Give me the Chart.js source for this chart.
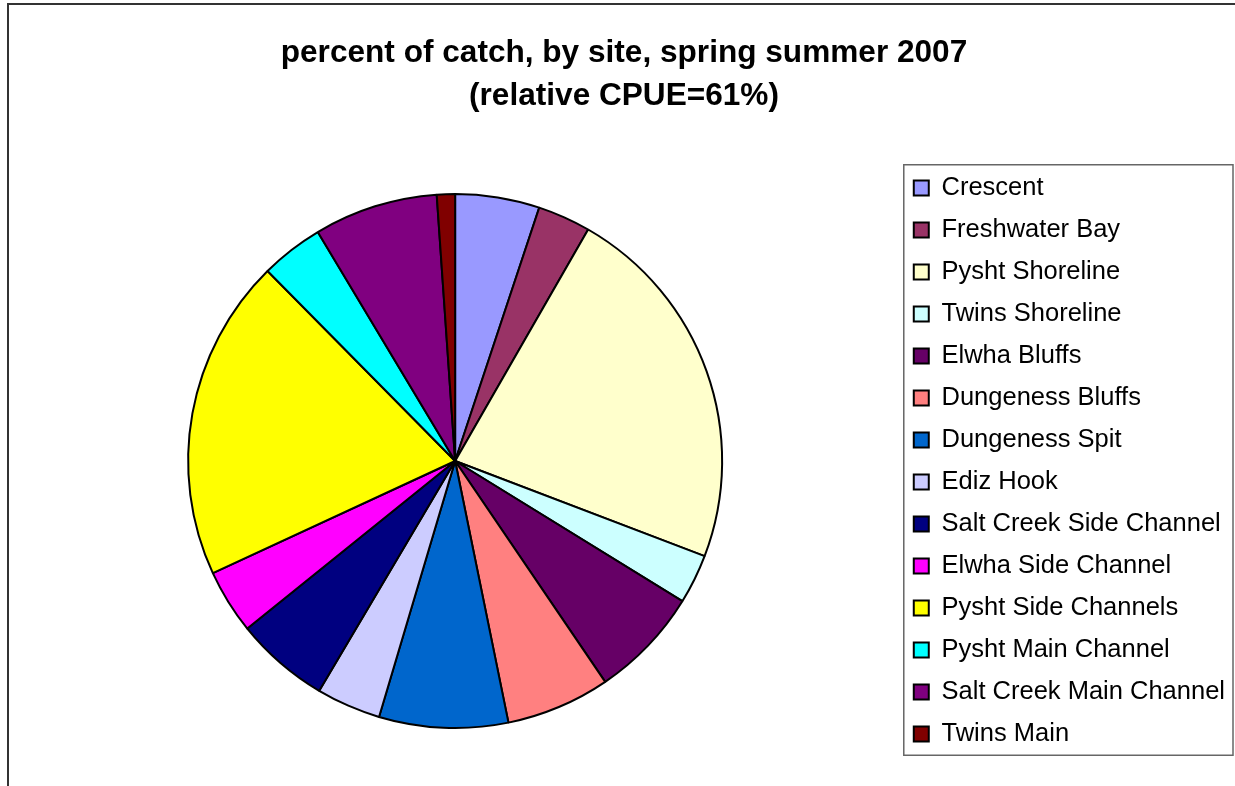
<!DOCTYPE html>
<html>
<head>
<meta charset="utf-8">
<script src="https://cdn.jsdelivr.net/npm/chart.js@4/dist/chart.umd.min.js"></script>
<style>
  html, body { margin: 0; padding: 0; background: #fff; overflow: hidden; }
  #frame {
    position: absolute; left: 7px; top: 3px; width: 1400px; height: 1000px;
    border-left: 2px solid #333; border-top: 2px solid #333;
  }
  #catchChart { position: absolute; left: 0; top: 0; }
</style>
</head>
<body>
<div id="frame"></div>
<canvas id="catchChart" width="1249" height="922"></canvas>
<script>
// Sites and their share of the catch (%)
const sites = [
  'Crescent', 'Freshwater Bay', 'Pysht Shoreline', 'Twins Shoreline',
  'Elwha Bluffs', 'Dungeness Bluffs', 'Dungeness Spit', 'Ediz Hook',
  'Salt Creek Side Channel', 'Elwha Side Channel', 'Pysht Side Channels',
  'Pysht Main Channel', 'Salt Creek Main Channel', 'Twins Main'
];
const percentCatch = [5.1, 3.2, 22.5, 3.0, 6.7, 6.3, 7.8, 3.9, 5.7, 3.9, 19.5, 3.8, 7.5, 1.1];
const siteColors = [
  '#9999FF', '#993366', '#FFFFCC', '#CCFFFF', '#660066', '#FF8080', '#0066CC',
  '#CCCCFF', '#000080', '#FF00FF', '#FFFF00', '#00FFFF', '#800080', '#800000'
];
const titleLines = ['percent of catch, by site, spring summer 2007', '(relative CPUE=61%)'];

const fontFamily = '"Liberation Sans", Arial, sans-serif';

// box around the legend, like the Excel one
const legendBox = {
  id: 'legendBox',
  afterDraw(chart) {
    const lg = chart.legend;
    if (!lg || !lg.legendHitBoxes.length) return;
    const boxes = lg.legendHitBoxes;
    const first = boxes[0], last = boxes[boxes.length - 1];
    const right = Math.max(...boxes.map(b => b.left + b.width));
    const x0 = first.left - 10, y0 = first.top - 10.5;
    const ctx = chart.ctx;
    ctx.save();
    ctx.strokeStyle = '#666';
    ctx.lineWidth = 1.5;
    ctx.strokeRect(x0, y0, right + 8 - x0, last.top + last.height + 8.5 - y0);
    ctx.restore();
  }
};

new Chart(document.getElementById('catchChart').getContext('2d'), {
  type: 'pie',
  data: {
    labels: sites,
    datasets: [{
      data: percentCatch,
      backgroundColor: siteColors,
      borderColor: '#000',
      borderWidth: 2
    }]
  },
  options: {
    responsive: false,
    animation: false,
    layout: { padding: { left: 13, right: 14, top: 0, bottom: 0 } },
    plugins: {
      title: {
        display: true,
        text: titleLines,
        color: '#000',
        font: { family: fontFamily, size: 31.6, weight: 'bold', lineHeight: 43 / 31.6 },
        padding: { top: 32, bottom: 75 }
      },
      // empty spacer under the pie so the tall legend can overhang it
      subtitle: {
        display: true,
        position: 'bottom',
        fullSize: false,
        text: ' ',
        font: { size: 10, lineHeight: 1 },
        padding: { top: 0, bottom: 183 }
      },
      legend: {
        position: 'right',
        fullSize: true,
        labels: {
          color: '#000',
          font: { family: fontFamily, size: 25.5 },
          boxWidth: 15,
          boxHeight: 15,
          padding: 16.5
        }
      },
      tooltip: { enabled: false }
    }
  },
  plugins: [legendBox]
});
</script>
</body>
</html>
